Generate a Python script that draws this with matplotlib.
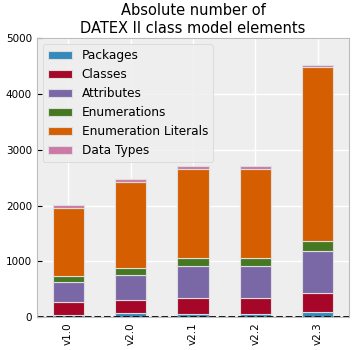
import matplotlib
matplotlib.use("Agg")
import matplotlib.pyplot as plt
import numpy as np

plt.style.use("bmh")

versions = ["v1.0", "v2.0", "v2.1", "v2.2", "v2.3"]
packages = [30, 66, 59, 59, 84]
classes = [233, 233, 276, 276, 341]
attributes = [359, 459, 573, 573, 752]
enumerations = [118, 126, 144, 144, 180]
enumeration_literals = [1219, 1541, 1606, 1606, 3128]
data_types = [43, 45, 42, 42, 42]

series = [
    ("Packages", packages, "#348ABD"),
    ("Classes", classes, "#A60628"),
    ("Attributes", attributes, "#7A68A6"),
    ("Enumerations", enumerations, "#467821"),
    ("Enumeration Literals", enumeration_literals, "#D55E00"),
    ("Data Types", data_types, "#CC79A7"),
]

fig = plt.figure(figsize=(3.55, 3.5), dpi=100)
ax = fig.add_axes([0.104, 0.094, 0.879, 0.797])

x = np.arange(len(versions))
bottom = np.zeros(len(versions))
for name, vals, col in series:
    ax.bar(x, vals, 0.5, bottom=bottom, label=name, color=col,
           edgecolor="#dddddd", linewidth=0.8)
    bottom += np.array(vals)

ax.grid(True, color="white", linestyle="-", linewidth=1.0)
ax.set_axisbelow(True)
ax.axhline(0, color="k", linestyle="--", linewidth=1.3)
ax.set_xlim(-0.5, len(versions) - 0.5)
ax.set_ylim(0, 5000)
ax.set_xticks(x)
ax.set_xticklabels(versions, rotation=90, fontsize=7.5)
ax.tick_params(axis="y", labelsize=7.5)
ax.set_title("Absolute number of\nDATEX II class model elements", fontsize=10.5, pad=4)
ax.legend(loc="upper left", fontsize=8.7)

fig.savefig("out.png", dpi=100)
